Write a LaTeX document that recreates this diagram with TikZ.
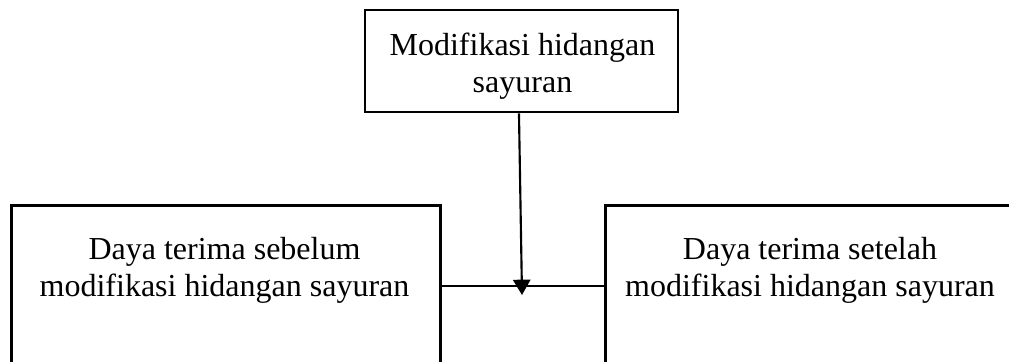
\documentclass[tikz,border=0pt]{standalone}
\usepackage{fontspec}
\setmainfont{Liberation Serif}
\usetikzlibrary{arrows.meta}
\begin{document}
\begin{tikzpicture}[x=0.75pt,y=-0.75pt,
  boxframe/.style={draw=black, line width=2pt, inner sep=0pt},
  boxtext/.style={align=center, inner sep=0pt, font=\fontsize{24pt}{27.75pt}\selectfont},
  arrowline/.style={draw=black, line width=1.6pt, -{Triangle[width=13pt,length=11.5pt]}},
  joinline/.style={draw=black, line width=1pt}]
\useasboundingbox (0,0) rectangle (1009,361);
% top box
\node[boxframe, minimum width=234.75pt, minimum height=76.5pt] (T) at (521.5,61) {};
\node[boxtext, anchor=base] (Ttxt) at (522.5,92) {Modifikasi hidangan\\sayuran};
% lower boxes (run off the page)
\node[boxframe, minimum width=321.75pt, minimum height=150pt, anchor=north west] (L) at (10,204) {};
\node[boxframe, minimum width=309pt, minimum height=150pt, anchor=north west] (R) at (604,204) {};
\node[boxtext, anchor=base] (Ltxt) at (224.5,296) {Daya terima sebelum\\modifikasi hidangan sayuran};
\node[boxtext, anchor=base] (Rtxt) at (810,296) {Daya terima setelah\\modifikasi hidangan sayuran};
% connectors
\coordinate (tip) at (522,295);
\draw[joinline] ([yshift=-61.5pt]L.north east) -- ([yshift=-61.5pt]R.north west);
\draw[arrowline] ([xshift=-1.9pt]T.south) -- (tip);
\end{tikzpicture}
\end{document}
